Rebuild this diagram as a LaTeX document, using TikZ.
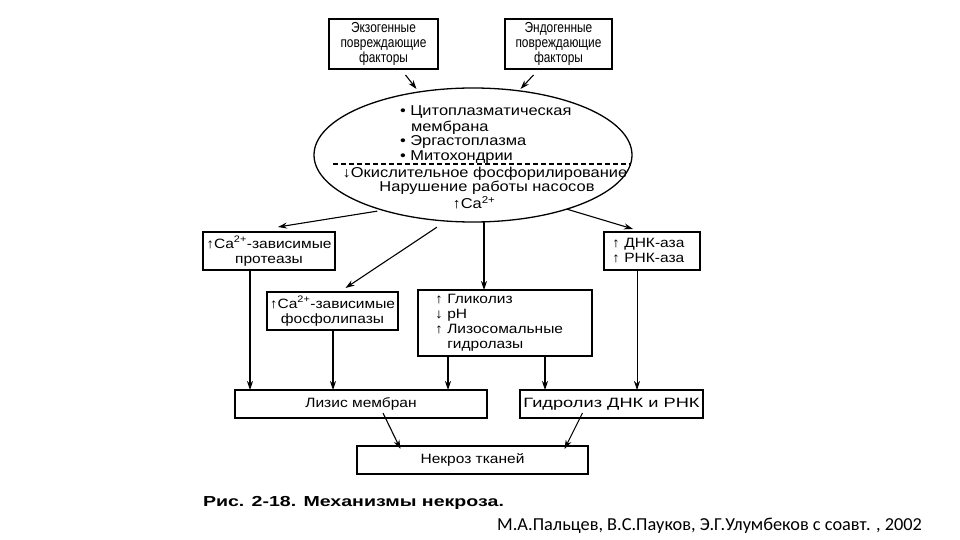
\documentclass[tikz,border=0pt]{standalone}
\usepackage{fontspec}
\setmainfont[FakeStretch=1.15]{Liberation Sans}
\newfontfamily\narrowfont[FakeStretch=0.82]{Liberation Sans}
\newfontfamily\widefont[FakeStretch=1.35]{Liberation Sans}
\newfontfamily\credfont{Carlito}
\usetikzlibrary{arrows.meta,shapes.geometric}
\begin{document}
\begin{tikzpicture}[x={(1bp,0)},y={(0,-1bp)},
  every node/.style={inner sep=0pt,outer sep=0pt},
  box/.style={draw,line width=1.2bp,align=center,font=\fontsize{13.5bp}{15bp}\selectfont},
  topbox/.style={box,minimum height=50bp,font=\narrowfont\fontsize{14.5bp}{15bp}\selectfont},
  txt/.style={align=left,font=\fontsize{14.3bp}{15bp}\selectfont},
  arr/.style={line width=1.1bp,-{Stealth[length=9bp,width=6bp]}},
  thinarr/.style={line width=0.7bp,-{Stealth[length=9bp,width=6bp]}}]
\useasboundingbox[fill=white] (0,0) rectangle (960,540);
% top boxes
\node[topbox,minimum width=109bp] (exo) at (383.5,44) {Экзогенные\\повреждающие\\факторы};
\node[topbox,minimum width=107bp] (endo) at (558.5,44) {Эндогенные\\повреждающие\\факторы};
% ellipse
\node[draw,ellipse,line width=1.3bp,minimum width=318bp,minimum height=134bp] (ell) at (473,155) {};
\node[txt,anchor=west] (e1) at (400,112) {• Цитоплазматическая};
\node[txt,anchor=west] (e2) at (411,128) {мембрана};
\node[txt,anchor=west] (e3) at (400,142) {• Эргастоплазма};
\node[txt,anchor=west] (e4) at (400,157) {• Митохондрии};
\coordinate (dl) at (333,164);
\coordinate (dr) at (630,164);
\draw[line width=1.1bp,dash pattern=on 5bp off 3bp] (dl) -- (dr);
\node[txt] (e5) at (485,174) {↓Окислительное фосфорилирование};
\node[txt] (e6) at (487,188) {Нарушение работы насосов};
\node[txt] (e7) at (474,203) {↑Ca\textsuperscript{2+}};
% middle boxes
\node[box,minimum width=132bp,minimum height=38bp] (prot) at (269,251) {↑Ca\textsuperscript{2+}-зависимые\\протеазы};
\node[box,minimum width=131bp,minimum height=38bp] (phos) at (332.5,311) {↑Ca\textsuperscript{2+}-зависимые\\фосфолипазы};
\node[box,minimum width=174bp,minimum height=66bp,text width=140bp,align=left] (gly) at (505,323) {↑ Гликолиз\\↓ pH\\↑ Лизосомальные\\\hphantom{↑ }гидролазы};
\node[box,minimum width=96bp,minimum height=38bp,text width=80bp,align=left] (dna) at (652,251) {↑ ДНК-аза\\↑ РНК-аза};
% bottom boxes
\node[box,minimum width=252bp,minimum height=28bp] (lys) at (361,404) {Лизис мембран};
\node[box,minimum width=183bp,minimum height=28bp,font=\widefont\fontsize{13.5bp}{15bp}\selectfont] (hyd) at (611.5,404) {Гидролиз ДНК и РНК};
\node[box,minimum width=231bp,minimum height=28bp] (nec) at (472.5,460) {Некроз тканей};
% captions
\node[anchor=west,font=\widefont\fontsize{14.5bp}{16bp}\selectfont\bfseries] (cap) at (203,503) {Рис. 2-18. Механизмы некроза.};
\node[anchor=east,font=\credfont\fontsize{18.3bp}{20bp}\selectfont] (cred) at (922,526) {М.А.Пальцев, В.С.Пауков, Э.Г.Улумбеков с соавт. , 2002};
% arrows
\draw[arr] ([xshift=22bp,yshift=-6bp]exo.south) -- ([xshift=33bp,yshift=-20bp]exo.south);
\draw[arr] ([xshift=-25bp,yshift=-6bp]endo.south) -- ([xshift=-38bp,yshift=-20bp]endo.south);
\draw[arr] (ell.-150) ++(-2,2) -- ([xshift=9bp,yshift=5bp]prot.north);
\draw[arr] (ell.-110) ++(-12,6) -- ([xshift=13bp,yshift=4bp]phos.north);
\draw[arr] (484,222) -- (gly.north -| 484,0);
\draw[arr] (ell.-30) ++(0,0) -- ([xshift=-19bp,yshift=3bp]dna.north);
\draw[arr] (prot.south -| 250,0) -- (lys.north -| 250,0);
\draw[arr] (phos.south -| 333,0) -- (lys.north -| 333,0);
\draw[arr] (gly.south -| 448,0) -- (lys.north -| 448,0);
\draw[arr] (gly.south -| 545,0) -- (hyd.north -| 545,0);
\draw[thinarr] (dna.south -| 637,0) -- (hyd.north -| 637,0);
\draw[arr] ([xshift=22bp,yshift=5bp]lys.south) -- ([xshift=-72bp,yshift=-3bp]nec.north);
\draw[arr] ([xshift=-29bp,yshift=5bp]hyd.south) -- ([xshift=92bp,yshift=-3bp]nec.north);
\end{tikzpicture}
\end{document}
